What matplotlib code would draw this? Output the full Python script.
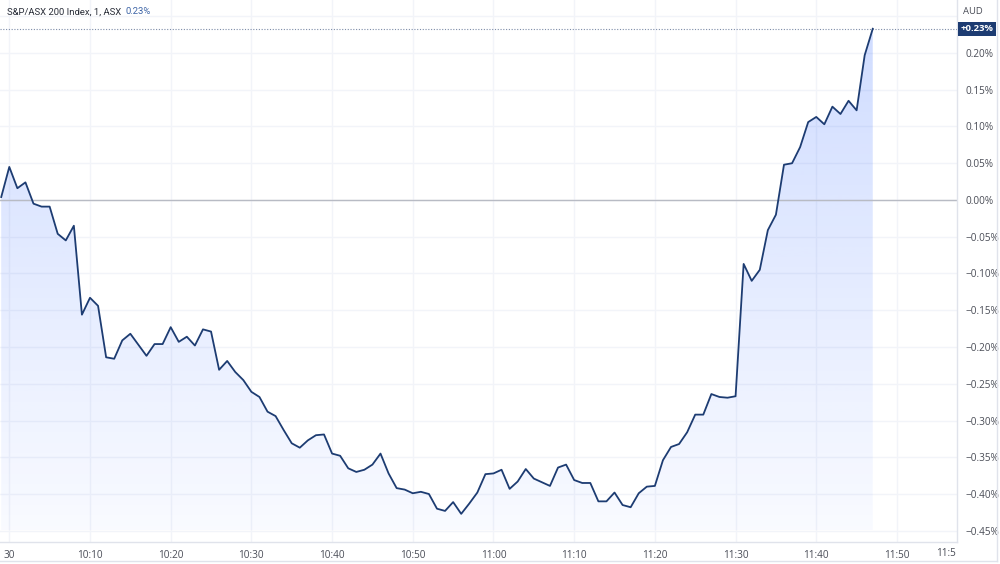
import numpy as np
import matplotlib
matplotlib.use('Agg')
import matplotlib.pyplot as plt
from matplotlib.patches import Polygon

plt.rcParams['font.family'] = ['Open Sans', 'DejaVu Sans']

# minutes after 10:00 (first point is 9:59 close)
minutes = np.arange(-1, 108)
pct = [0.004,
       0.045, 0.016, 0.024, -0.005, -0.009, -0.009, -0.046, -0.055, -0.035, -0.156,
       -0.133, -0.144, -0.214, -0.216, -0.191, -0.182, -0.197, -0.212, -0.196, -0.196,
       -0.173, -0.193, -0.186, -0.198, -0.176, -0.179, -0.231, -0.219, -0.234, -0.245,
       -0.261, -0.268, -0.288, -0.294, -0.313, -0.331, -0.337, -0.327, -0.320, -0.319,
       -0.345, -0.348, -0.365, -0.370, -0.367, -0.360, -0.345, -0.372, -0.392, -0.394,
       -0.399, -0.397, -0.400, -0.420, -0.423, -0.411, -0.427, -0.413, -0.398, -0.373,
       -0.372, -0.367, -0.393, -0.383, -0.366, -0.379, -0.384, -0.389, -0.364, -0.360,
       -0.381, -0.385, -0.385, -0.410, -0.410, -0.398, -0.415, -0.418, -0.399, -0.390,
       -0.389, -0.354, -0.336, -0.332, -0.316, -0.292, -0.292, -0.264, -0.268, -0.269,
       -0.267, -0.087, -0.110, -0.095, -0.041, -0.020, 0.048, 0.050, 0.072, 0.106,
       0.113, 0.103, 0.127, 0.117, 0.135, 0.122, 0.197, 0.233]
pct = np.array(pct)

xtick_pos = [0, 10, 20, 30, 40, 50, 60, 70, 80, 90, 100, 110]
xtick_lab = ['30', '10:10', '10:20', '10:30', '10:40', '10:50', '11:00',
             '11:10', '11:20', '11:30', '11:40', '11:50']
ytick_pos = np.round(np.arange(-0.45, 0.251, 0.05), 2)

line_col = '#1d3c72'
grid_col = '#f2f4f9'
border_col = '#e0e3eb'
txt_col = '#4a4d57'


def fmt_pct(v):
    if abs(v) < 1e-9:
        return '0.00%'
    return ('%.2f%%' % v).replace('-', '\u2212')


fig = plt.figure(figsize=(10, 5.64), dpi=100)
ax = fig.add_axes([0, 1 - 542 / 564, 957 / 1000, 542 / 564])
ax.set_xlim(-1.152, 117.44)
ax.set_ylim(-0.4653, 0.2721)

# grid
for x in xtick_pos:
    ax.axvline(x, color=grid_col, lw=1, zorder=0)
for y in ytick_pos:
    ax.axhline(y, color=grid_col, lw=1, zorder=0)

# gradient area fill
bottom = -0.449
verts = [(minutes[0], bottom)] + list(zip(minutes, pct)) + [(minutes[-1], bottom)]
poly = Polygon(verts, closed=True, facecolor='none', edgecolor='none')
ax.add_patch(poly)
n = 256
alpha = np.linspace(0.03, 0.22, n).reshape(-1, 1)
grad = np.zeros((n, 1, 4))
grad[..., 0] = 41 / 255
grad[..., 1] = 98 / 255
grad[..., 2] = 1.0
grad[..., 3] = alpha
im = ax.imshow(grad, aspect='auto', origin='lower',
               extent=[minutes[0], minutes[-1], bottom, pct.max()], zorder=1)
im.set_clip_path(poly)

# zero line and last price line
ax.axhline(0, color='#b8bbc4', lw=1, zorder=2)
ax.axhline(pct[-1], color='#7d8ca8', lw=0.8, ls=(0, (1, 1.5)), zorder=2)

ax.plot(minutes, pct, color=line_col, lw=1.3, zorder=3)

# axes styling
for s in ['top', 'left']:
    ax.spines[s].set_visible(False)
for s in ['right', 'bottom']:
    ax.spines[s].set_color(border_col)
    ax.spines[s].set_linewidth(1)

ax.set_xticks(xtick_pos)
ax.set_xticklabels(xtick_lab)
ax.yaxis.tick_right()
ax.set_yticks(ytick_pos)
ax.set_yticklabels(['' if abs(v - 0.25) < 1e-9 else fmt_pct(v) for v in ytick_pos])
ax.tick_params(axis='both', length=0, labelsize=7.2, colors=txt_col)
ax.tick_params(axis='x', pad=6)
ax.tick_params(axis='y', pad=6)

ax.text(0.999, -0.021, '11:5', transform=ax.transAxes, ha='right', va='center',
        fontsize=7.2, color=txt_col, clip_on=False)

# headers
t1 = fig.text(0.007, 1 - 12 / 564, 'S&P/ASX 200 Index, 1, ASX', fontsize=6.8,
              family=['Roboto', 'DejaVu Sans'], color='#2a2e39',
              va='center', ha='left')
ax.annotate('0.23%', xy=(1, 0.5), xycoords=t1, xytext=(3, 0),
            textcoords='offset points', fontsize=6.8, color='#3d64a6',
            family=['Roboto', 'DejaVu Sans'],
            va='center', ha='left', annotation_clip=False)
fig.text(0.963, 1 - 11 / 564, 'AUD', fontsize=6.8, color=txt_col, va='center', ha='left')

# last value label
ax.text(1.004, pct[-1], '+0.23%', transform=ax.get_yaxis_transform(),
        ha='left', va='center', fontsize=6.8, color='white', fontweight='bold',
        clip_on=False,
        bbox=dict(boxstyle='square,pad=0.25', facecolor=line_col, edgecolor='none'))

# outer frame lines
fig.add_artist(plt.Line2D([0, 0.997], [1 - 561 / 564] * 2, color=border_col, lw=1))
fig.add_artist(plt.Line2D([0.997, 0.997], [1 - 561 / 564, 1], color=border_col, lw=1))

fig.savefig('out.png', dpi=100)
